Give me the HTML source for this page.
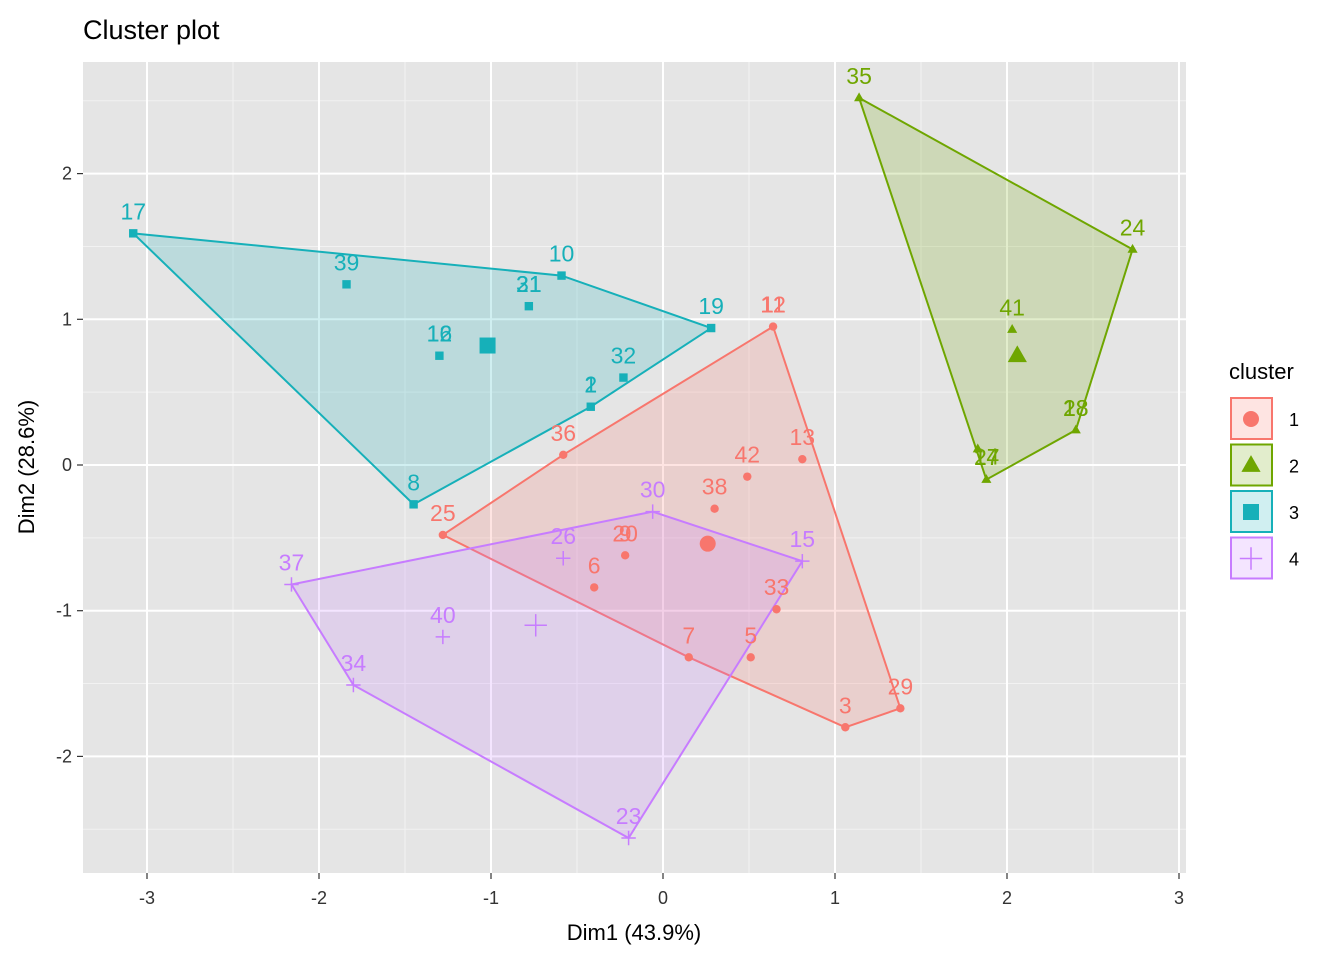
<!DOCTYPE html>
<html><head><meta charset="utf-8"><style>
body{margin:0;background:#fff;}
svg{display:block;font-family:"Liberation Sans",Arial,sans-serif;}
</style></head><body>
<svg id="chart" width="1344" height="960" viewBox="0 0 1344 960" xmlns="http://www.w3.org/2000/svg">
<text x="83" y="39" font-size="27" fill="#000">Cluster plot</text>
<rect x="83" y="62" width="1103" height="811" fill="#E5E5E5"/>
<g id="grid"></g><g id="hulls"></g><g id="points"></g><g id="labels"></g><g id="axes"></g>
<text x="634" y="940" font-size="22" text-anchor="middle" fill="#000">Dim1 (43.9%)</text>
<text transform="translate(34,467) rotate(-90)" font-size="22" text-anchor="middle" fill="#000">Dim2 (28.6%)</text>
<g id="legend">
<text x="1229" y="379" font-size="22" fill="#000">cluster</text>
</g>
</svg>
<script>
const clusterIds=["1","2","3","4"];
const clusterColors=["#F8766D","#6FA600","#16B0B9","#C77CFF"];
const ptNames=[["11","12"],"13","42","38","36","25",["20","9"],"6","33","7","5","3","29","35","24","41",["28","18"],"27","14","17","39","10",["21","31"],"19",["16","12"],"32",["1","2"],"8","30","26","15","37","40","34","23"];
const ptX=[0.64,0.81,0.49,0.30,-0.58,-1.28,-0.22,-0.40,0.66,0.15,0.51,1.06,1.38,1.14,2.73,2.03,2.40,1.83,1.88,-3.08,-1.84,-0.59,-0.78,0.28,-1.30,-0.23,-0.42,-1.45,-0.06,-0.58,0.81,-2.16,-1.28,-1.80,-0.20];
const ptY=[0.95,0.04,-0.08,-0.30,0.07,-0.48,-0.62,-0.84,-0.99,-1.32,-1.32,-1.80,-1.67,2.52,1.48,0.93,0.24,0.11,-0.10,1.59,1.24,1.30,1.09,0.94,0.75,0.60,0.40,-0.27,-0.32,-0.64,-0.66,-0.82,-1.18,-1.51,-2.56];
const ptCluster=[0,0,0,0,0,0,0,0,0,0,0,0,0,1,1,1,1,1,1,2,2,2,2,2,2,2,2,2,3,3,3,3,3,3,3];
const centX=[0.26,2.06,-1.02,-0.74];
const centY=[-0.54,0.75,0.82,-1.10];
const xTicks=[-3,-2,-1,0,1,2,3];
const yTicks=[-2,-1,0,1,2];
const xMinor=[-2.5,-1.5,-0.5,0.5,1.5,2.5];
const yMinor=[-2.5,-1.5,-0.5,0.5,1.5,2.5];

const X=v=>663+v*172, Y=v=>465-v*145.7;
const NS="http://www.w3.org/2000/svg";
function mk(tag,attrs,parent){const e=document.createElementNS(NS,tag);for(const k in attrs)e.setAttribute(k,attrs[k]);parent.appendChild(e);return e;}
const grid=document.getElementById('grid'),axes=document.getElementById('axes');
xMinor.forEach(v=>{const e=mk('line',{x1:X(v),x2:X(v),y1:62,y2:873,stroke:'#F2F2F2','stroke-width':1},grid);});
yMinor.forEach(v=>{const y=Y(v);if(y<62||y>873)return;const e=mk('line',{x1:83,x2:1186,y1:y,y2:y,stroke:'#F2F2F2','stroke-width':1},grid);});
xTicks.forEach(v=>{const e=mk('line',{x1:X(v),x2:X(v),y1:62,y2:873,stroke:'#fff','stroke-width':2},grid);
 const t=mk('line',{x1:X(v),x2:X(v),y1:873,y2:879,stroke:'#333','stroke-width':1.2},axes);
 const l=mk('text',{x:X(v),y:904,'font-size':18,'text-anchor':'middle',fill:'#333'},axes);l.textContent=v;});
yTicks.forEach(v=>{const e=mk('line',{x1:83,x2:1186,y1:Y(v),y2:Y(v),stroke:'#fff','stroke-width':2},grid);
 const t=mk('line',{x1:77,x2:83,y1:Y(v),y2:Y(v),stroke:'#333','stroke-width':1.2},axes);
 const l=mk('text',{x:72,y:Y(v)+6,'font-size':18,'text-anchor':'end',fill:'#333'},axes);l.textContent=v;});

function hull(pts){pts=pts.slice().sort((a,b)=>a[0]-b[0]||a[1]-b[1]);const cr=(o,a,b)=>(a[0]-o[0])*(b[1]-o[1])-(a[1]-o[1])*(b[0]-o[0]);const lo=[],up=[];
 for(const p of pts){while(lo.length>=2&&cr(lo[lo.length-2],lo[lo.length-1],p)<=0)lo.pop();lo.push(p);}
 for(const p of pts.slice().reverse()){while(up.length>=2&&cr(up[up.length-2],up[up.length-1],p)<=0)up.pop();up.push(p);}
 lo.pop();up.pop();return lo.concat(up);}
const hg=document.getElementById('hulls'),pg=document.getElementById('points'),lg=document.getElementById('labels');
function shape(c,x,y,s,parent){const col=clusterColors[c];let e;
 if(c===0)e=mk('circle',{cx:x,cy:y,r:s,fill:col},parent);
 else if(c===1)e=mk('polygon',{points:`${x},${y-s*1.3} ${x-s*1.2},${y+s*0.8} ${x+s*1.2},${y+s*0.8}`,fill:col},parent);
 else if(c===2)e=mk('rect',{x:x-s,y:y-s,width:2*s,height:2*s,fill:col},parent);
 else e=mk('path',{d:`M${x-s*1.6},${y}H${x+s*1.6}M${x},${y-s*1.6}V${y+s*1.6}`,stroke:col,'stroke-width':1.5,fill:'none'},parent);
 return e;}
clusterIds.forEach((id,c)=>{const pts=[];ptX.forEach((v,i)=>{if(ptCluster[i]===c)pts.push([X(v),Y(ptY[i])]);});
 const h=hull(pts);const p=mk('polygon',{points:h.map(q=>q.join(',')).join(' '),fill:clusterColors[c],'fill-opacity':0.2,stroke:clusterColors[c],'stroke-width':2},hg);
 
 const ce=shape(c,X(centX[c]),Y(centY[c]),c===3?7:8,pg);});
ptX.forEach((v,i)=>{const c=ptCluster[i],x=X(v),y=Y(ptY[i]);
 const e=shape(c,x,y,c===3?4.5:4.2,pg);
 const names=Array.isArray(ptNames[i])?ptNames[i]:[ptNames[i]];
 let lx=x,ly=y-14;
 if(names[0]==="27"){lx=x+9;ly=y+16;} else if(names[0]==="14"){ly=y-15;}
 names.forEach(n=>{const t=mk('text',{x:lx,y:ly,'font-size':23,'text-anchor':'middle',fill:clusterColors[c]},lg);t.textContent=n;});});
const leg=document.getElementById('legend');
clusterIds.forEach((id,c)=>{const y=398+c*46.5;
 const r=mk('rect',{x:1231,y:y,width:41,height:41,fill:clusterColors[c],'fill-opacity':0.2,stroke:clusterColors[c],'stroke-width':2},leg);
 const s=shape(c,1251,y+21,c===3?7:8,leg);
 const t=mk('text',{x:1289,y:y+28,'font-size':18,fill:'#000'},leg);t.textContent=id;});
</script>
</body></html>
